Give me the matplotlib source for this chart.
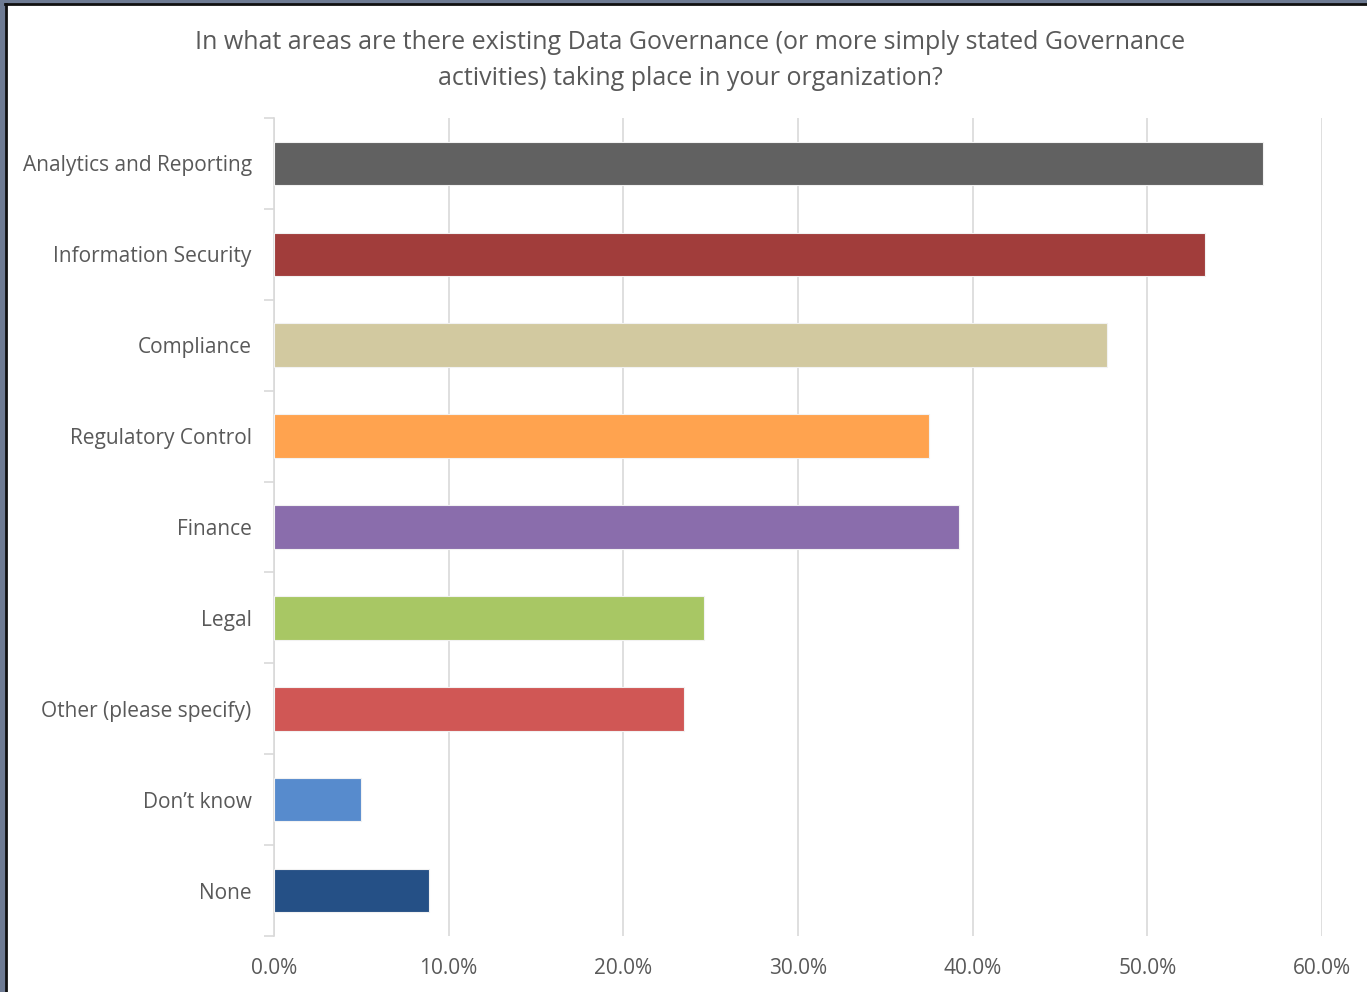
import matplotlib.pyplot as plt
import matplotlib.patches as mpatches
from matplotlib.ticker import FuncFormatter, MultipleLocator, FixedLocator
import numpy as np

plt.rcParams['font.family'] = ['Open Sans', 'DejaVu Sans']

categories = ['Analytics and Reporting', 'Information Security', 'Compliance',
              'Regulatory Control', 'Finance', 'Legal', 'Other (please specify)',
              'Don\u2019t know', 'None']
values = [56.6, 53.3, 47.7, 37.5, 39.2, 24.6, 23.5, 5.0, 8.9]
colors = ['#616161', '#A13D3B', '#D2C9A0', '#FFA34F', '#8A6DAC',
          '#A8C764', '#D05755', '#578BCD', '#255086']
title = ('In what areas are there existing Data Governance (or more simply stated Governance\n'
         'activities) taking place in your organization?')

text_col = '#595959'
grid_col = '#D9D9D9'

fig = plt.figure(figsize=(13.67, 9.92), dpi=100)

# window frame on the top and left edges
fig.patches.append(mpatches.Rectangle((0, 0.9965), 1, 0.0035, transform=fig.transFigure,
                                      color='#6E7B93', zorder=0))
fig.patches.append(mpatches.Rectangle((0, 0), 0.0035, 1, transform=fig.transFigure,
                                      color='#6E7B93', zorder=0))
fig.lines.append(plt.Line2D([0.0035, 1], [0.9955, 0.9955], transform=fig.transFigure,
                            color='#111111', lw=2))
fig.lines.append(plt.Line2D([0.0042, 0.0042], [0, 0.9955], transform=fig.transFigure,
                            color='#111111', lw=2))

ax = fig.add_axes([0.2004, 0.0565, 0.7667, 0.8245])

y = np.arange(len(categories))
ax.barh(y, values, height=0.48, color=colors, edgecolor='#F2F2F2', linewidth=0.8, zorder=3)
ax.set_ylim(len(categories) - 0.5, -0.5)
ax.set_xlim(0, 60)

ax.xaxis.set_major_locator(MultipleLocator(10))
ax.xaxis.set_major_formatter(FuncFormatter(lambda v, p: f'{v:.1f}%'))
ax.grid(axis='x', color=grid_col, linewidth=1.2, zorder=0)
ax.tick_params(axis='x', length=0, pad=16, labelsize=15, labelcolor=text_col)

ax.set_yticks(y)
ax.set_yticklabels(categories)
ax.yaxis.set_minor_locator(FixedLocator(np.arange(-0.5, len(categories), 1)))
ax.tick_params(axis='y', which='major', length=0, pad=16, labelsize=15, labelcolor=text_col)
ax.tick_params(axis='y', which='minor', length=7, width=1.2, color=grid_col)

for s in ['top', 'right', 'bottom']:
    ax.spines[s].set_visible(False)
ax.spines['left'].set_color(grid_col)
ax.spines['left'].set_linewidth(1.2)

fig.text(690 / 1367, 1 - 60.5 / 992, title, ha='center', va='center',
         fontsize=18, color=text_col, linespacing=1.55)

fig.savefig('out.png', dpi=100)
